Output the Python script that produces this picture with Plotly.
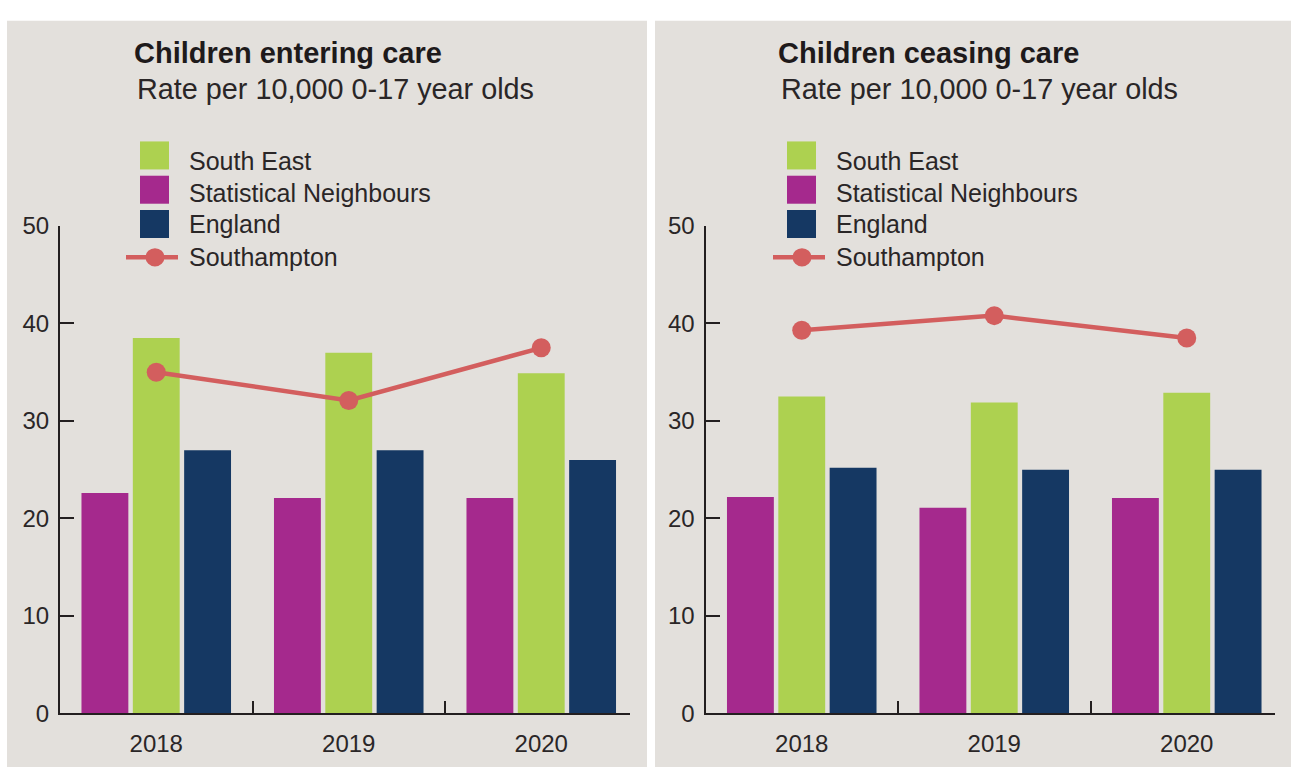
import plotly.graph_objects as go

W, H = 1291, 782

# ---------------- data ----------------
years = ["2018", "2019", "2020"]
x_pos = [0, 1, 2]

entering_south_east = [38.5, 37.0, 34.9]
entering_stat_neighbours = [22.6, 22.1, 22.1]
entering_england = [27.0, 27.0, 26.0]
entering_southampton = [35.0, 32.1, 37.5]

ceasing_south_east = [32.5, 31.9, 32.9]
ceasing_stat_neighbours = [22.2, 21.1, 22.1]
ceasing_england = [25.2, 25.0, 25.0]
ceasing_southampton = [39.3, 40.8, 38.5]

panel_titles = ["Children entering care", "Children ceasing care"]
subtitle = "Rate per 10,000 0-17 year olds"
series_names = ["South East", "Statistical Neighbours", "England", "Southampton"]

# ---------------- style ----------------
C_SE = "#add150"
C_SN = "#a5298d"
C_ENG = "#153863"
C_STH = "#d35e5e"
BG = "#e3e0dc"
AXC = "#231f20"
TXT = "#2a2627"
FONT = "Liberation Sans, Arial, Helvetica, sans-serif"


def px_x(p):
    return p / W


def px_y(p):
    return 1 - p / H


fig = go.Figure()

panels = [
    (entering_stat_neighbours, entering_south_east, entering_england, entering_southampton, "x", "y"),
    (ceasing_stat_neighbours, ceasing_south_east, ceasing_england, ceasing_southampton, "x2", "y2"),
]

for sn, se, eng, sth, xa, ya in panels:
    fig.add_trace(go.Bar(x=x_pos, y=sn, name=series_names[1], marker=dict(color=C_SN, line=dict(width=0)),
                         xaxis=xa, yaxis=ya, showlegend=False))
    fig.add_trace(go.Bar(x=x_pos, y=se, name=series_names[0], marker=dict(color=C_SE, line=dict(width=0)),
                         xaxis=xa, yaxis=ya, showlegend=False))
    fig.add_trace(go.Bar(x=x_pos, y=eng, name=series_names[2], marker=dict(color=C_ENG, line=dict(width=0)),
                         xaxis=xa, yaxis=ya, showlegend=False))
    fig.add_trace(go.Scatter(x=x_pos, y=sth, name=series_names[3], mode="lines+markers",
                             line=dict(color=C_STH, width=4.5), marker=dict(color=C_STH, size=19),
                             xaxis=xa, yaxis=ya, showlegend=False))

# ---------------- axes ----------------
unit = 192.5
offset = 645.5
left_x0 = 60
x_end = 2.461
x_w = (x_end + 0.5) * unit

y_dom = [px_y(724.5), px_y(219.5)]


def xaxis_cfg(x0):
    return dict(
        domain=[px_x(x0), px_x(x0 + x_w)],
        range=[-0.5, x_end],
        tickmode="array", tickvals=x_pos, ticktext=years,
        ticks="", showline=True, linewidth=2, linecolor=AXC,
        showgrid=False, zeroline=False,
        tickfont=dict(size=24, color=TXT, family=FONT),
        ticklabelstandoff=8,
        minor=dict(tickmode="array", tickvals=[0.5, 1.5], ticks="inside", ticklen=12,
                   tickwidth=2, tickcolor=AXC, showgrid=False),
        fixedrange=True,
    )


def yaxis_cfg(anchor):
    return dict(
        domain=y_dom, range=[0, 50], tickmode="linear", tick0=0, dtick=10,
        ticks="inside", ticklen=14, tickwidth=2, tickcolor=AXC,
        showline=True, linewidth=2, linecolor=AXC,
        showgrid=False, zeroline=False, anchor=anchor,
        tickfont=dict(size=24, color=TXT, family=FONT),
        ticklabelstandoff=4,
        fixedrange=True,
    )


fig.update_layout(
    xaxis=dict(**xaxis_cfg(left_x0), anchor="y"),
    yaxis=yaxis_cfg("x"),
    xaxis2=dict(**xaxis_cfg(left_x0 + offset), anchor="y2"),
    yaxis2=yaxis_cfg("x2"),
)

# ---------------- panel backgrounds ----------------
shapes = []
for x0, x1 in [(7, 647), (655, 1291)]:
    shapes.append(dict(type="rect", xref="paper", yref="paper", layer="below",
                       x0=px_x(x0), x1=px_x(x1), y0=px_y(780), y1=px_y(7),
                       fillcolor=BG, line=dict(width=0)))

# ---------------- legends, titles ----------------
annotations = []
sw_tops = [132, 167.5, 203]
sw_colors = [C_SE, C_SN, C_ENG]
txt_y = [152, 185, 218, 252]
for k, dx in enumerate([0, 647]):
    for top, col in zip(sw_tops, sw_colors):
        shapes.append(dict(type="rect", xref="paper", yref="paper",
                           x0=px_x(140 + dx), x1=px_x(169 + dx), y0=px_y(top + 29), y1=px_y(top),
                           fillcolor=col, line=dict(width=0)))
    shapes.append(dict(type="line", xref="paper", yref="paper",
                       x0=px_x(126 + dx), x1=px_x(178 + dx), y0=px_y(252), y1=px_y(252),
                       line=dict(color=C_STH, width=4.5)))
    shapes.append(dict(type="circle", xref="paper", yref="paper",
                       x0=px_x(145.5 + dx), x1=px_x(164.5 + dx), y0=px_y(261.5), y1=px_y(242.5),
                       fillcolor=C_STH, line=dict(width=0)))
    for name, ty in zip(series_names, txt_y):
        annotations.append(dict(text=name, xref="paper", yref="paper", x=px_x(187 + dx), y=px_y(ty),
                                xanchor="left", yanchor="middle", showarrow=False,
                                font=dict(size=25, color=TXT, family=FONT)))
    annotations.append(dict(text="<b>" + panel_titles[k] + "</b>", xref="paper", yref="paper",
                            x=px_x(132 + dx - (3 if k else 0)), y=px_y(40), xanchor="left", yanchor="middle",
                            showarrow=False, font=dict(size=29, color="#1e1a1b", family=FONT)))
    annotations.append(dict(text=subtitle, xref="paper", yref="paper",
                            x=px_x(135 + dx - (3 if k else 0)), y=px_y(78), xanchor="left", yanchor="middle",
                            showarrow=False, font=dict(size=28.8, color=TXT, family=FONT)))

fig.update_layout(
    width=W, height=H, autosize=False,
    margin=dict(l=0, r=0, t=0, b=0, pad=0),
    paper_bgcolor="white", plot_bgcolor="rgba(0,0,0,0)",
    barmode="group", bargap=0.2, bargroupgap=0.087,
    showlegend=False,
    shapes=shapes, annotations=annotations,
    font=dict(family=FONT, color=TXT),
)

fig.write_html(
    "out.html",
    config={"displayModeBar": False, "responsive": False, "staticPlot": True},
    post_script="document.body.style.margin='0';document.body.style.overflow='hidden';",
)
